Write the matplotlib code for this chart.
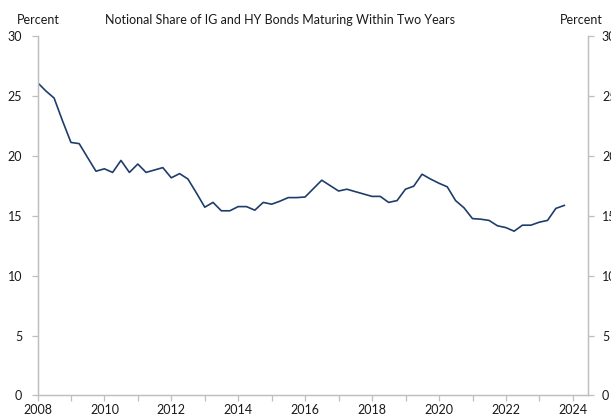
import numpy as np
import pandas as pd
import matplotlib
matplotlib.use("Agg")
import matplotlib.pyplot as plt
import matplotlib.dates as mdates

# Quartalsende-Werte, Anteil in Prozent
quartale = pd.date_range("2007-12-31", periods=64, freq="QE")
anteil = [26.1, 25.4, 24.8, 22.9, 21.1, 21.0, 19.85, 18.7,
          18.9, 18.6, 19.6, 18.6, 19.3, 18.6, 18.8, 19.0,
          18.15, 18.5, 18.05, 16.9, 15.7, 16.1, 15.4, 15.4,
          15.75, 15.75, 15.45, 16.1, 15.95, 16.2, 16.5, 16.5,
          16.55, 17.25, 17.95, 17.5, 17.05, 17.2, 17.0, 16.8,
          16.6, 16.6, 16.1, 16.25, 17.2, 17.45, 18.45, 18.05,
          17.7, 17.4, 16.25, 15.65, 14.75, 14.7, 14.6, 14.15,
          14.0, 13.7, 14.2, 14.2, 14.45, 14.6, 15.6, 15.85]

y_ticks = [0, 5, 10, 15, 20, 25, 30]
titel = "Notional Share of IG and HY Bonds Maturing Within Two Years"

plt.rcParams['font.family'] = ['Lato', 'DejaVu Sans']
grau = '#bfbfbf'
textfarbe = '#1a1a1a'

fig = plt.figure(figsize=(6.11, 4.15), dpi=100)
ax = fig.add_axes([0.0614, 0.047, 0.901, 0.867])

ax.plot(quartale, anteil, color='#1f3d6b', lw=1.2)

ax.set_ylim(0, 30)
ax.set_yticks(y_ticks)
ax.set_xlim(pd.Timestamp("2008-01-01"), pd.Timestamp("2024-06-15"))
ax.xaxis.set_major_locator(mdates.YearLocator(2))
ax.xaxis.set_minor_locator(mdates.YearLocator(1))
ax.xaxis.set_major_formatter(mdates.DateFormatter('%Y'))

ax2 = ax.twinx()
ax2.set_ylim(0, 30)
ax2.set_yticks(y_ticks)

for a in (ax, ax2):
    a.spines['top'].set_visible(False)
    for s in ('left', 'right', 'bottom'):
        a.spines[s].set_color(grau)
        a.spines[s].set_linewidth(0.9)
    a.tick_params(which='both', color=grau, length=4, width=0.9,
                  labelsize=9, labelcolor=textfarbe, pad=4)
ax.tick_params(axis='y', pad=7)
ax2.tick_params(axis='y', pad=6)
ax.tick_params(axis='x', pad=2)

fig.text(0.062, 0.951, "Percent", ha='center', va='center', fontsize=9, color=textfarbe)
fig.text(0.951, 0.951, "Percent", ha='center', va='center', fontsize=9, color=textfarbe)
fig.text(0.458, 0.951, titel, ha='center', va='center', fontsize=9, color=textfarbe)

fig.savefig("out.png", dpi=100)
